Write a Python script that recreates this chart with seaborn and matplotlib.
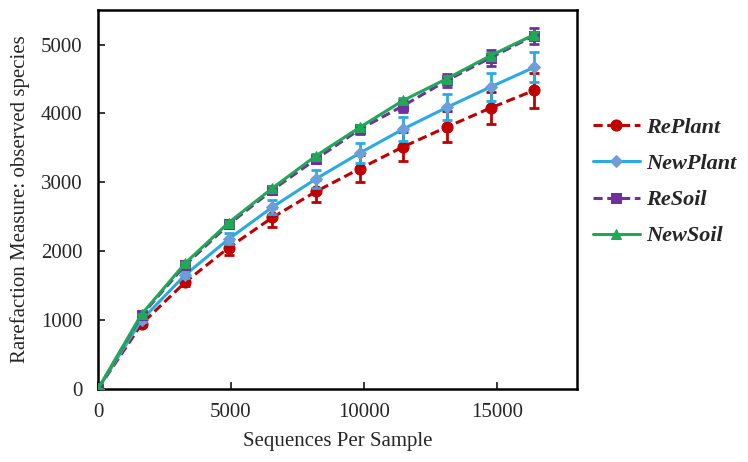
import numpy as np
import pandas as pd
import seaborn as sns
import matplotlib.pyplot as plt

# sequences per sample (rarefaction depths)
depth = [0, 1640, 3280, 4920, 6560, 8200, 9840, 11480, 13120, 14760, 16400]

replant = [0, 945, 1551, 2054, 2490, 2868, 3198, 3517, 3804, 4080, 4336]
newplant = [0, 1003, 1657, 2180, 2641, 3052, 3425, 3775, 4089, 4385, 4670]
resoil = [0, 1070, 1800, 2390, 2890, 3338, 3770, 4113, 4480, 4810, 5130]
newsoil = [0, 1086, 1827, 2417, 2917, 3387, 3798, 4190, 4506, 4840, 5145]

replant_err = [0, 30, 50, 106, 145, 160, 194, 213, 225, 230, 254]
newplant_err = [0, 30, 40, 80, 96, 133, 150, 177, 190, 210, 218]
resoil_err = [0, 20, 30, 40, 50, 60, 70, 90, 97, 114, 116]
newsoil_err = [0, 10, 15, 20, 25, 30, 30, 35, 40, 40, 45]

names = ['RePlant', 'NewPlant', 'ReSoil', 'NewSoil']
values = [replant, newplant, resoil, newsoil]
errors = [replant_err, newplant_err, resoil_err, newsoil_err]

sns.set_style('white')
plt.rcParams['font.family'] = ['Liberation Serif', 'DejaVu Serif']

styles = {
    'RePlant': dict(color='#C00000', marker='o', ms=8, mfc='#C00000', mec='#C00000', ls=(0, (3, 1.5))),
    'NewPlant': dict(color='#29ABE2', marker='D', ms=6.5, mfc='#6A9FD8', mec='#6A9FD8', ls='-'),
    'ReSoil': dict(color='#7030A0', marker='s', ms=6.5, mfc='#7030A0', mec='#7030A0', ls=(0, (3, 1.5))),
    'NewSoil': dict(color='#1FA855', marker='^', ms=7, mfc='#1FA855', mec='#1FA855', ls='-'),
}

df = pd.DataFrame({
    'Sequences': depth * 4,
    'Observed': sum(values, []),
    'Err': sum(errors, []),
    'Group': sum([[n] * len(depth) for n in names], []),
})

fig, ax = plt.subplots(figsize=(7.48, 4.62), dpi=100)
plt.subplots_adjust(left=0.131, right=0.771, bottom=0.158, top=0.978)

for i, name in enumerate(names):
    sub = df[df['Group'] == name]
    st = styles[name]
    ax.errorbar(sub['Sequences'], sub['Observed'], yerr=sub['Err'], fmt='none',
                ecolor=st['color'], elinewidth=2, capsize=3.5, capthick=2, zorder=2 + i)
    sns.lineplot(x='Sequences', y='Observed', data=sub, ax=ax, color=st['color'],
                 linestyle=st['ls'], linewidth=2.2, marker=st['marker'], markersize=st['ms'],
                 markerfacecolor=st['mfc'], markeredgecolor=st['mec'], label=name,
                 legend=False, zorder=2 + i)

ax.set_xlim(0, 18000)
ax.set_ylim(0, 5500)
ax.set_xticks([0, 5000, 10000, 15000])
ax.set_yticks([0, 1000, 2000, 3000, 4000, 5000])
ax.tick_params(direction='in', length=5, width=1.3, labelsize=15, left=True, bottom=True)
ax.tick_params(axis='y', pad=11)
ax.tick_params(axis='x', pad=10)
for sp in ax.spines.values():
    sp.set_linewidth(1.8)
    sp.set_color('black')
ax.set_xlabel('Sequences Per Sample', fontsize=15, labelpad=7)
ax.set_ylabel('Rarefaction Measure: observed species', fontsize=15, labelpad=8)

handles, labels = ax.get_legend_handles_labels()
fig.legend(handles, labels, loc='center left', bbox_to_anchor=(0.766, 0.606), frameon=False,
           prop=dict(family='Liberation Serif', style='italic', weight='bold', size=16),
           handlelength=2.1, labelspacing=0.7, handletextpad=0.3)

fig.savefig('out.png', dpi=100)
